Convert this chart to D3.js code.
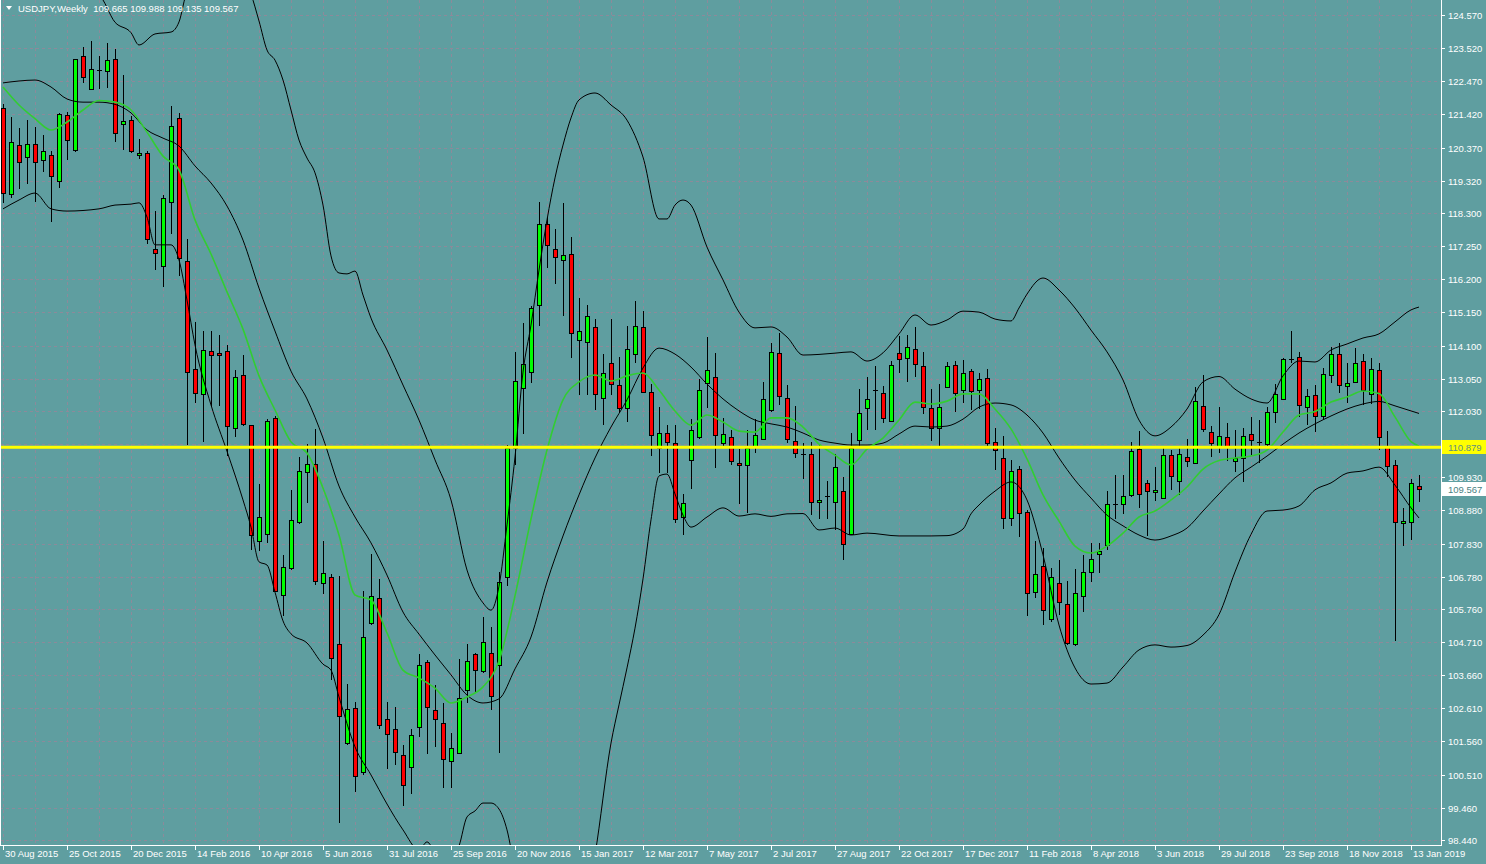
<!DOCTYPE html>
<html><head><meta charset="utf-8">
<script src="https://cdn.jsdelivr.net/npm/d3@7"></script>
<style>
html,body{margin:0;padding:0;background:#5f9ea0;overflow:hidden;}
svg{display:block;}
text{font-family:"Liberation Sans",Arial,sans-serif;font-size:9.5px;}
</style></head><body>
<svg id="c" width="1486" height="864"></svg>
<script>
// ---------------- data ----------------
const symbol = "USDJPY,Weekly";
const opens = [121.62,118.89,120.45,120.08,120.48,119.96,120.14,119.29,121.39,120.29,123.27,122.22,122.83,122.79,123.17,121.14,121.24,120.13,120.21,117.15,116.60,118.63,121.30,116.78,113.36,112.55,113.92,113.87,113.93,111.50,113.17,111.57,107.91,108.12,111.82,106.21,107.06,108.53,110.10,110.35,106.59,106.78,104.64,101.50,102.61,100.59,105.33,106.09,102.26,101.94,101.12,100.75,102.03,104.07,102.55,102.14,100.94,101.19,103.21,104.32,103.80,104.37,104.00,106.77,110.86,112.77,113.27,115.36,117.94,117.17,116.83,117.00,114.28,114.23,114.70,112.45,113.54,112.86,112.12,113.85,114.70,112.63,110.86,111.32,111.02,108.65,110.46,111.20,112.93,113.12,111.00,111.19,110.37,110.30,110.88,111.13,112.06,113.86,112.43,111.09,110.65,110.66,109.14,109.32,109.14,109.48,108.14,111.08,112.15,112.68,112.60,111.74,113.85,113.70,113.98,113.44,112.12,111.49,112.78,113.50,112.70,113.28,112.68,113.08,111.06,110.53,108.66,110.18,108.84,106.29,107.13,105.46,106.59,105.91,104.62,106.15,106.92,107.50,107.78,109.07,109.10,109.35,110.83,109.74,109.46,109.28,110.64,109.81,110.56,110.40,112.18,111.36,110.90,111.20,110.44,110.56,111.29,111.03,111.00,111.98,112.40,113.67,113.74,112.15,112.55,111.87,113.16,113.82,112.80,112.93,113.60,112.59,113.32,110.90,110.31,108.47,108.50,109.665];
const highs = [121.75,121.35,120.98,121.24,121.03,120.77,120.26,121.48,121.50,123.17,123.57,123.75,123.27,123.67,123.48,122.67,121.37,120.65,120.25,118.36,118.87,121.69,121.48,117.49,114.86,114.55,114.55,114.43,114.12,113.33,113.80,111.60,109.73,111.79,111.88,107.47,109.53,110.57,110.98,111.45,107.90,106.85,106.80,103.38,102.80,106.33,107.50,106.70,102.82,102.66,101.45,101.94,104.33,104.14,103.35,102.79,101.84,104.17,104.65,104.35,105.49,105.20,106.94,110.95,113.90,114.82,115.35,118.64,118.17,117.80,118.60,117.53,115.60,115.38,114.93,113.84,114.93,113.74,114.73,115.50,115.18,112.89,112.17,111.58,111.58,109.41,111.77,113.03,114.38,113.86,111.82,111.42,110.83,111.42,111.77,112.94,114.17,114.49,112.84,112.20,111.02,111.05,110.95,109.80,110.66,109.95,111.32,112.72,113.12,113.45,112.82,113.60,114.41,114.44,114.70,113.89,112.72,112.88,113.57,113.60,113.64,113.37,113.22,113.37,111.48,111.24,110.48,110.29,108.90,107.90,107.69,107.05,107.31,106.64,107.01,107.48,107.85,107.85,109.50,110.00,110.00,111.06,111.38,109.84,110.24,110.86,110.78,110.92,111.13,112.78,113.17,111.55,112.15,111.66,111.42,111.48,111.83,111.74,112.15,112.88,113.71,114.56,113.91,112.72,112.85,113.38,114.06,114.19,113.54,114.01,113.83,113.70,113.54,111.39,110.48,108.95,109.86,109.988];
const lows = [118.61,118.77,119.05,119.21,118.66,119.61,118.02,119.10,119.98,120.24,122.41,122.20,122.22,122.25,120.56,120.31,120.20,120.00,117.31,116.49,115.97,117.63,116.30,110.95,112.29,111.03,112.17,112.19,110.60,111.20,111.55,107.64,107.60,107.84,106.29,105.53,107.00,108.45,109.10,106.53,106.24,103.52,98.97,101.45,99.97,100.50,105.25,101.94,100.69,100.82,99.52,99.90,101.69,101.16,101.39,100.08,100.08,101.15,102.79,103.11,103.72,102.56,101.19,106.50,110.33,111.31,112.90,114.71,116.56,116.04,115.03,113.71,112.55,112.52,112.06,111.57,112.55,111.96,111.67,113.54,112.60,110.60,110.07,110.07,108.49,108.10,109.57,111.15,112.11,110.22,110.85,110.32,109.08,108.79,110.71,111.10,112.00,112.23,111.00,110.53,109.86,108.74,108.60,108.60,108.26,107.31,108.10,110.90,111.44,111.44,111.66,111.70,113.22,112.96,113.12,111.92,111.08,110.85,112.75,112.00,112.29,112.06,112.10,110.90,110.17,108.28,108.37,108.03,105.53,106.10,105.24,105.33,105.57,104.62,104.60,105.65,106.62,106.89,107.62,108.60,108.77,109.30,108.95,108.08,109.19,109.25,109.52,109.37,110.26,110.35,111.37,110.56,110.71,110.45,110.08,109.77,110.63,110.37,110.85,111.64,112.38,113.54,111.83,111.58,111.35,111.76,112.93,112.61,112.29,112.90,112.22,112.25,110.80,109.93,104.75,107.76,107.94,109.135];
const closes = [118.94,120.54,119.92,120.48,119.92,120.26,119.48,121.42,120.60,123.17,122.60,122.85,122.83,123.15,120.83,121.22,120.27,120.19,117.50,117.02,118.76,121.05,116.85,113.26,112.61,113.95,113.80,113.80,111.57,113.12,111.62,108.10,108.68,111.70,106.34,107.09,108.59,110.13,110.35,106.63,106.90,104.23,102.37,102.58,100.45,104.86,106.18,102.06,101.80,101.20,100.16,101.76,103.98,102.66,102.26,101.00,101.36,102.93,104.12,103.80,104.72,103.02,106.62,110.86,112.99,113.53,115.30,117.94,117.29,116.91,116.98,114.51,114.56,115.05,112.57,113.24,112.86,112.12,114.00,114.73,112.63,111.27,111.34,111.05,108.60,109.10,111.42,112.69,113.33,111.27,111.29,110.43,110.30,110.85,111.27,112.41,113.89,112.49,111.13,110.72,110.65,109.14,109.20,109.32,110.25,107.81,110.85,111.95,112.42,112.68,111.82,113.50,113.66,114.06,113.52,112.15,111.49,112.15,113.44,112.60,113.24,112.64,113.03,111.03,110.81,108.63,110.14,108.79,106.29,106.86,105.73,106.78,105.99,104.67,106.25,106.92,107.33,107.60,109.08,109.07,109.35,110.75,109.41,109.50,109.52,110.64,109.97,110.67,110.44,112.35,111.45,111.00,111.25,110.88,110.53,111.25,111.11,111.03,112.00,112.56,113.66,113.67,112.22,112.51,111.90,113.19,113.82,112.85,112.90,113.54,112.69,113.37,111.20,110.29,108.50,108.53,109.74,109.567];

// indicator readings (bar index -> price)
const midIdx = [0,2,4,6,8,10,12,14,16,18,20,22,24,26,28,30,32,34,36,38,40,42,44,46,48,50,52,54,56,58,60,62,64,66,68,70,72,74,76,78,80,82,84,86,88,90,92,94,96,98,100,102,104,106,108,110,112,114,116,118,120,122,124,126,128,130,132,134,136,138,140,142,144,146,148,150,152,154,156,158,160,162,164,166,168,170,172,174,176,177];
const middleBand = [122.42,122.48,122.51,122.29,121.91,121.81,121.81,121.74,121.47,120.93,120.67,120.42,119.79,119.25,118.52,117.44,115.92,114.56,113.29,112.41,111.17,109.65,108.67,107.85,106.83,105.66,104.96,104.30,103.67,103.03,102.78,102.91,103.86,104.87,106.61,108.07,109.37,110.54,111.52,112.38,113.39,114.02,113.83,113.42,112.88,112.41,112.03,111.74,111.62,111.52,111.33,111.11,111.01,110.95,110.95,111.01,111.30,111.55,111.52,111.55,111.77,112.15,112.28,112.22,111.90,111.33,110.54,109.84,109.27,108.73,108.39,108.10,107.94,108.07,108.32,108.86,109.40,109.91,110.25,110.60,110.98,111.33,111.62,111.87,112.09,112.25,112.33,112.19,112.03,111.95];
const maLine = [122.29,121.72,121.29,120.93,121.18,121.56,121.86,121.81,121.56,120.86,120.10,119.66,118.08,117.00,115.80,114.62,113.14,112.06,111.05,110.70,109.59,108.10,106.20,106.04,105.00,103.82,103.57,103.25,102.78,102.97,103.29,104.11,106.17,108.61,110.79,112.38,112.95,113.17,112.98,113.14,113.23,112.69,112.03,111.58,111.90,111.68,111.39,111.36,111.81,111.81,111.52,110.98,110.63,110.32,110.82,111.17,111.74,112.31,112.25,112.34,112.57,112.57,112.09,111.46,110.51,109.37,108.54,107.75,107.53,107.75,108.16,108.67,108.86,109.21,109.62,110.19,110.46,110.54,110.60,110.79,111.36,111.90,112.01,112.31,112.47,112.66,112.58,111.84,111.06,110.92];
const upperIdx = [0,4,8,12,14,16,17,19,21,22,23,26,28,31,32,33,34,35,36,37,38,39,40,41,42,43,44,45,46,48,50,52,54,56,58,60,61,62,63,64,65,66,67,68,69,70,71,72,74,76,78,80,82,83,84,85,86,88,90,92,94,96,98,100,102,104,106,108,110,112,114,116,118,120,122,124,126,127,128,130,132,134,136,138,140,142,144,146,148,150,152,154,156,158,160,162,164,166,168,170,172,174,176,177];
const upperBand = [126.41,126.09,125.46,125.19,124.34,124.01,123.62,123.97,124.03,124.35,125.30,126.00,126.29,125.23,124.38,123.46,123.14,122.51,121.56,120.61,120.04,119.57,118.55,116.94,116.40,116.37,116.46,115.70,114.97,113.96,112.85,111.74,110.48,109.21,106.99,105.95,105.72,106.48,108.42,110.57,113.26,114.75,116.49,118.08,119.41,120.45,121.31,121.88,122.10,121.72,121.24,120.07,118.11,118.11,118.55,118.71,118.55,117.22,116.18,115.16,114.66,114.69,114.37,113.80,113.82,113.86,113.90,113.61,113.87,114.47,115.07,114.75,114.91,115.19,115.16,114.94,114.88,115.29,115.73,116.24,115.86,115.29,114.59,113.90,113.01,111.74,111.24,111.52,112.09,112.95,113.12,112.72,112.41,112.28,113.14,113.61,113.58,113.96,114.15,114.34,114.47,114.85,115.23,115.32];
const lowerIdx = [0,2,4,6,8,12,14,16,17,18,19,21,22,23,24,26,28,30,31,32,33,34,35,36,38,40,41,42,44,46,48,50,52,53,54,56,57,58,59,60,61,62,63,64,68,72,74,76,77,78,79,80,81,82,83,84,85,86,88,90,92,94,96,98,100,102,104,106,108,112,116,118,120,121,122,124,126,128,130,132,134,136,138,140,142,144,146,148,150,152,154,156,158,160,162,164,166,168,170,172,174,176,177];
const lowerBand = [118.43,118.71,118.93,118.43,118.36,118.43,118.55,118.58,118.62,118.17,117.29,117.29,116.81,115.54,114.12,112.22,110.75,109.21,108.35,107.25,107.15,106.29,105.38,104.97,104.68,104.01,103.82,102.97,101.39,100.50,99.58,98.76,98.12,98.38,98.06,97.81,98.25,99.17,99.36,99.61,99.61,99.42,98.76,97.49,94.50,95.50,97.97,101.51,102.72,103.89,105.15,106.71,108.58,109.97,110.03,109.40,108.73,108.35,108.67,108.96,108.70,108.77,108.69,108.77,108.78,108.26,108.32,108.10,108.16,108.07,108.07,108.08,108.29,108.77,109.05,109.49,109.78,109.21,107.47,105.25,103.89,103.38,103.41,103.92,104.46,104.62,104.55,104.60,104.93,105.58,106.93,108.12,108.86,108.89,109.02,109.53,109.75,110.06,110.13,110.25,109.68,108.96,108.64];

const priceTicks = [124.570,123.520,122.470,121.420,120.370,119.320,118.300,117.250,116.200,115.150,114.100,113.050,112.030,110.980,109.930,108.880,107.830,106.780,105.760,104.710,103.660,102.610,101.560,100.510,99.460,98.440];
const dateLabels = ["30 Aug 2015","25 Oct 2015","20 Dec 2015","14 Feb 2016","10 Apr 2016","5 Jun 2016","31 Jul 2016","25 Sep 2016","20 Nov 2016","15 Jan 2017","12 Mar 2017","7 May 2017","2 Jul 2017","27 Aug 2017","22 Oct 2017","17 Dec 2017","11 Feb 2018","8 Apr 2018","3 Jun 2018","29 Jul 2018","23 Sep 2018","18 Nov 2018","13 Jan 2019"];
const dateLabelStep = 8;   // bars between date labels
const gridStep = 4;        // bars between vertical grid lines
const levelLine = 110.879;

// ---------------- layout ----------------
const W = 1486, H = 864, plotR = 1441, plotB = 845;
const BG = "#5f9ea0", GRID = "#8c8a9a", FG = "#ffffff";
const svg = d3.select("#c");
const x = d3.scaleLinear().domain([0, 1]).range([3, 11]);
const y = d3.scaleLinear().domain([98.440, 124.570]).range([840, 15]);

svg.append("rect").attr("width", W).attr("height", H).attr("fill", BG);
svg.append("defs").append("clipPath").attr("id", "plot")
  .append("rect").attr("x", 0).attr("y", 0).attr("width", plotR).attr("height", plotB);
const plot = svg.append("g").attr("clip-path", "url(#plot)");

// grid
const gridG = plot.append("g").attr("stroke", GRID).attr("stroke-dasharray", "3,3")
  .attr("shape-rendering", "crispEdges");
gridG.selectAll("line.v").data(d3.range(0, opens.length, gridStep)).join("line")
  .attr("x1", i => x(i) + 0.5).attr("x2", i => x(i) + 0.5).attr("y1", 0).attr("y2", plotB);
gridG.selectAll("line.h").data(priceTicks).join("line")
  .attr("x1", 0).attr("x2", plotR).attr("y1", d => Math.round(y(d)) + 0.5).attr("y2", d => Math.round(y(d)) + 0.5);

// candles
const bars = d3.range(opens.length).map(i => ({i, o: opens[i], h: highs[i], l: lows[i], c: closes[i]}));
const cg = plot.append("g").attr("shape-rendering", "crispEdges");
cg.selectAll("line.w").data(bars).join("line")
  .attr("x1", d => x(d.i) + 0.5).attr("x2", d => x(d.i) + 0.5)
  .attr("y1", d => y(d.h)).attr("y2", d => y(d.l))
  .attr("stroke", "#000").attr("stroke-width", 1);
cg.selectAll("rect.b").data(bars.filter(d => d.o !== d.c)).join("rect")
  .attr("x", d => x(d.i) - 1.5).attr("width", 4)
  .attr("y", d => Math.round(y(Math.max(d.o, d.c))) + 0.5)
  .attr("height", d => Math.max(1, Math.round(Math.abs(y(d.o) - y(d.c)))))
  .attr("fill", d => d.c > d.o ? "#00ff00" : "#ff0000")
  .attr("stroke", "#000").attr("stroke-width", 1);
cg.selectAll("line.d").data(bars.filter(d => d.o === d.c)).join("line")
  .attr("x1", d => x(d.i) - 2).attr("x2", d => x(d.i) + 3)
  .attr("y1", d => Math.round(y(d.c)) + 0.5).attr("y2", d => Math.round(y(d.c)) + 0.5)
  .attr("stroke", "#000").attr("stroke-width", 1);

// indicator lines
function drawSeries(idx, vals, color, width) {
  const gen = d3.line().x((d, k) => x(idx[k])).y(d => y(d)).curve(d3.curveMonotoneX);
  plot.append("path").attr("d", gen(vals)).attr("fill", "none").attr("stroke", color).attr("stroke-width", width);
}
drawSeries(upperIdx, upperBand, "#000", 1);
drawSeries(midIdx, middleBand, "#000", 1);
drawSeries(lowerIdx, lowerBand, "#000", 1);
drawSeries(midIdx, maLine, "#32cd32", 1.6);

// horizontal level line
plot.append("line").attr("x1", 0).attr("x2", plotR)
  .attr("y1", y(levelLine)).attr("y2", y(levelLine))
  .attr("stroke", "#ffff00").attr("stroke-width", 3);

// frame
const frame = svg.append("g").attr("stroke", FG).attr("shape-rendering", "crispEdges");
frame.append("line").attr("x1", plotR + 0.5).attr("x2", plotR + 0.5).attr("y1", 0).attr("y2", plotB + 1);
frame.append("line").attr("x1", 0).attr("x2", plotR + 1).attr("y1", plotB + 0.5).attr("y2", plotB + 0.5);
frame.append("line").attr("x1", 0.5).attr("x2", 0.5).attr("y1", 0).attr("y2", plotB);

// right price axis
const last = opens.length - 1;
const yAxis = svg.append("g");
priceTicks.forEach(t => {
  const ty = Math.round(y(t)) + 0.5;
  yAxis.append("line").attr("x1", plotR).attr("x2", plotR + 4).attr("y1", ty).attr("y2", ty)
    .attr("stroke", FG).attr("shape-rendering", "crispEdges");
  if (Math.abs(y(t) - y(levelLine)) > 8) {
    yAxis.append("text").attr("x", plotR + 7).attr("y", ty + 3.5).attr("fill", FG).text(t.toFixed(3));
  }
});
function priceBox(v, bg, fg) {
  const ty = Math.round(y(v));
  yAxis.append("rect").attr("x", plotR + 1).attr("y", ty - 7).attr("width", W - plotR - 1).attr("height", 14).attr("fill", bg);
  yAxis.append("text").attr("x", plotR + 7).attr("y", ty + 3.5).attr("fill", fg).text(v.toFixed(3));
}
priceBox(levelLine, "#ffff00", "#5f8f80");
priceBox(closes[last], "#ffffff", "#4a7f82");

// bottom time axis
const xAxis = svg.append("g");
dateLabels.forEach((lab, k) => {
  const tx = x(k * dateLabelStep) + 0.5;
  xAxis.append("line").attr("x1", tx).attr("x2", tx).attr("y1", plotB).attr("y2", plotB + 5)
    .attr("stroke", FG).attr("shape-rendering", "crispEdges");
  xAxis.append("text").attr("x", tx + 1.5).attr("y", plotB + 12).attr("fill", FG).text(lab);
});

// title
svg.append("path").attr("d", "M6,6 L12,6 L9,10 Z").attr("fill", FG);
svg.append("text").attr("x", 18).attr("y", 12).attr("fill", FG).style("white-space", "pre")
  .text(symbol + "  " + [opens[last], highs[last], lows[last], closes[last]].map(v => v.toFixed(3)).join(" "));
</script>
</body></html>
